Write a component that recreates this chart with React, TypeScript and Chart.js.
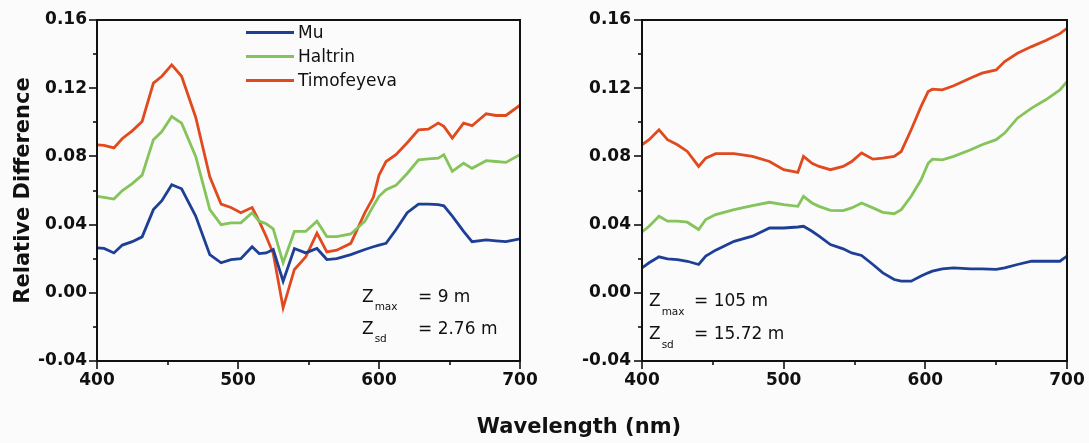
import React, { useEffect, useRef } from "react";
import { Chart, registerables } from "chart.js";

Chart.register(...registerables);

// ---------- data ----------
const seriesNames = ["Mu", "Haltrin", "Timofeyeva"];
const seriesColors = ["#1d3f95", "#85c35b", "#e14a1f"];

const xAxisTitle = "Wavelength (nm)";
const yAxisTitle = "Relative Difference";

const leftWavelengths = [400, 405, 412, 418, 425, 432, 440, 446, 453, 460, 470, 480, 488, 495, 502, 510, 515, 520, 525, 532, 540, 548, 556, 563, 570, 580, 590, 596, 600, 605, 612, 620, 628, 635, 642, 646, 652, 660, 666, 676, 683, 690, 700];
const leftMu = [0.0263, 0.026, 0.0234, 0.028, 0.03, 0.0328, 0.0488, 0.054, 0.0634, 0.061, 0.045, 0.0224, 0.0176, 0.0195, 0.02, 0.027, 0.023, 0.0234, 0.0254, 0.0068, 0.026, 0.0234, 0.026, 0.0195, 0.02, 0.0224, 0.0254, 0.027, 0.028, 0.029, 0.037, 0.047, 0.052, 0.052, 0.0517, 0.051, 0.045, 0.036, 0.03, 0.031, 0.0305, 0.03, 0.0316];
const leftHaltrin = [0.0566, 0.056, 0.055, 0.06, 0.064, 0.069, 0.0898, 0.0946, 0.1034, 0.0995, 0.08, 0.0488, 0.04, 0.041, 0.041, 0.047, 0.042, 0.0405, 0.0375, 0.0176, 0.036, 0.036, 0.042, 0.033, 0.033, 0.0345, 0.042, 0.051, 0.0566, 0.0605, 0.063, 0.07, 0.078, 0.0785, 0.079, 0.081, 0.0712, 0.076, 0.073, 0.0775, 0.077, 0.0765, 0.081];
const leftTimofeyeva = [0.0868, 0.0865, 0.085, 0.0905, 0.095, 0.1005, 0.123, 0.127, 0.1337, 0.127, 0.103, 0.068, 0.052, 0.05, 0.047, 0.05, 0.042, 0.033, 0.023, -0.0088, 0.0137, 0.021, 0.035, 0.024, 0.025, 0.029, 0.047, 0.056, 0.069, 0.077, 0.081, 0.088, 0.0956, 0.096, 0.0995, 0.0976, 0.0907, 0.0995, 0.098, 0.105, 0.104, 0.104, 0.11];

const rightWavelengths = [400, 405, 412, 418, 425, 432, 440, 445, 452, 465, 478, 490, 500, 510, 514, 520, 525, 533, 542, 548, 555, 563, 570, 578, 583, 590, 597, 602, 605, 612, 620, 632, 640, 650, 656, 665, 675, 685, 695, 700];
const rightMu = [0.0146, 0.0176, 0.0211, 0.0199, 0.0195, 0.0185, 0.0166, 0.0215, 0.025, 0.0302, 0.0332, 0.038, 0.038, 0.0386, 0.039, 0.0361, 0.0332, 0.0283, 0.0258, 0.0234, 0.0219, 0.0166, 0.0117, 0.0078, 0.0068, 0.0068, 0.0098, 0.0117, 0.0127, 0.014, 0.0146, 0.014, 0.014, 0.0137, 0.0146, 0.0166, 0.0185, 0.0185, 0.0185, 0.0215];
const rightHaltrin = [0.0357, 0.039, 0.0449, 0.042, 0.042, 0.0414, 0.0371, 0.043, 0.0459, 0.0488, 0.0511, 0.0531, 0.0517, 0.0507, 0.0566, 0.0527, 0.0507, 0.0484, 0.0482, 0.0498, 0.0527, 0.0498, 0.0472, 0.0464, 0.0488, 0.0566, 0.0663, 0.076, 0.0784, 0.078, 0.08, 0.0839, 0.0868, 0.0898, 0.0937, 0.1024, 0.1083, 0.1132, 0.119, 0.1239];
const rightTimofeyeva = [0.0868, 0.0898, 0.0956, 0.0898, 0.0868, 0.0829, 0.0741, 0.079, 0.0816, 0.0816, 0.08, 0.077, 0.0722, 0.0706, 0.08, 0.076, 0.0741, 0.0722, 0.0741, 0.077, 0.082, 0.0784, 0.079, 0.08, 0.0829, 0.0956, 0.1093, 0.118, 0.1194, 0.119, 0.1214, 0.126, 0.1288, 0.1307, 0.1356, 0.1405, 0.1444, 0.148, 0.152, 0.1551];

const leftNotes = [
  ["max", "= 9 m"],
  ["sd", "= 2.76 m"],
];
const rightNotes = [
  ["max", "= 105 m"],
  ["sd", "= 15.72 m"],
];

const xMin = 400;
const xMax = 700;
const xStep = 50;
const yMin = -0.04;
const yMax = 0.16;
const yStep = 0.02;

// ---------- styles ----------
const FONT = "'DejaVu Sans', 'Liberation Sans', sans-serif";
const INK = "#111111";
const BG = "#fbfbfb";

function toPoints(xs: number[], ys: number[]) {
  return xs.map((x, i) => ({ x, y: ys[i] }));
}

const axesPlugin = {
  id: "axesFrame",
  afterDraw(chart: any) {
    const { ctx, chartArea: a, scales } = chart;
    ctx.save();
    ctx.strokeStyle = INK;
    ctx.lineWidth = 1.6;
    scales.x.ticks.forEach((t: any) => {
      const px = Math.round(scales.x.getPixelForValue(t.value));
      const len = t.label !== "" ? 8 : 4;
      ctx.beginPath();
      ctx.moveTo(px, a.bottom);
      ctx.lineTo(px, a.bottom + len);
      ctx.stroke();
    });
    scales.y.ticks.forEach((t: any) => {
      const py = Math.round(scales.y.getPixelForValue(t.value));
      const len = t.label !== "" ? 8 : 4;
      ctx.beginPath();
      ctx.moveTo(a.left, py);
      ctx.lineTo(a.left - len, py);
      ctx.stroke();
    });
    ctx.lineWidth = 2;
    ctx.strokeRect(a.left, a.top, a.right - a.left, a.bottom - a.top);
    ctx.restore();
  },
};

const legendPlugin = {
  id: "lineLegend",
  afterDraw(chart: any) {
    const { ctx, chartArea: a } = chart;
    ctx.save();
    chart.data.datasets.forEach((ds: any, i: number) => {
      const y = a.top + 12.5 + i * 24;
      ctx.strokeStyle = ds.borderColor;
      ctx.lineWidth = 3;
      ctx.beginPath();
      ctx.moveTo(a.left + 149, y);
      ctx.lineTo(a.left + 197, y);
      ctx.stroke();
      ctx.fillStyle = INK;
      ctx.font = `17px ${FONT}`;
      ctx.textBaseline = "middle";
      ctx.fillText(ds.label, a.left + 201, y + 1);
    });
    ctx.restore();
  },
};

function notesPlugin(notes: string[][], zDx: number, eqDx: number, baselines: number[], subDrop: number) {
  return {
    id: "zNotes",
    afterDraw(chart: any) {
      const { ctx, chartArea: a } = chart;
      ctx.save();
      ctx.fillStyle = INK;
      ctx.textBaseline = "alphabetic";
      notes.forEach((n, i) => {
        const y = a.top + baselines[i];
        ctx.font = `17px ${FONT}`;
        ctx.fillText("Z", a.left + zDx, y);
        const zw = ctx.measureText("Z").width;
        ctx.font = `10.5px ${FONT}`;
        ctx.fillText(n[0], a.left + zDx + zw + 1, y + subDrop);
        ctx.font = `17px ${FONT}`;
        ctx.fillText(n[1], a.left + eqDx, y);
      });
      ctx.restore();
    },
  };
}

function buildConfig(o: {
  xs: number[];
  mu: number[];
  ha: number[];
  ti: number[];
  yWidth: number;
  padRight: number;
  yPad: number;
  showTitle: boolean;
  plugins: any[];
}) {
  const tickFont = { family: FONT, size: 17, weight: "bold" as const };
  return {
    type: "line" as const,
    data: {
      datasets: [o.mu, o.ha, o.ti].map((ys, i) => ({
        label: seriesNames[i],
        data: toPoints(o.xs, ys),
        borderColor: seriesColors[i],
        backgroundColor: seriesColors[i],
        borderWidth: 2.8,
        pointRadius: 0,
        tension: 0,
        fill: false,
      })),
    },
    options: {
      responsive: false,
      animation: false as const,
      devicePixelRatio: 1,
      layout: { padding: { top: 20, right: o.padRight, left: 0, bottom: 0 } },
      plugins: { legend: { display: false }, tooltip: { enabled: false } },
      scales: {
        x: {
          type: "linear" as const,
          min: xMin,
          max: xMax,
          border: { display: false },
          grid: { display: false, drawTicks: false, tickLength: 0 },
          ticks: {
            stepSize: xStep,
            autoSkip: false,
            maxRotation: 0,
            padding: 9,
            color: INK,
            font: tickFont,
            callback: (v: any) => (Number(v) % 100 === 0 ? String(v) : ""),
          },
          afterFit: (s: any) => {
            s.height = 82;
            s.paddingLeft = 0;
            s.paddingRight = 0;
          },
        },
        y: {
          type: "linear" as const,
          min: yMin,
          max: yMax,
          border: { display: false },
          grid: { display: false, drawTicks: false, tickLength: 0 },
          ticks: {
            stepSize: yStep,
            autoSkip: false,
            padding: o.yPad,
            color: INK,
            font: tickFont,
            callback: (v: any) => (Math.round(Number(v) * 100) % 4 === 0 ? Number(v).toFixed(2) : ""),
          },
          title: {
            display: o.showTitle,
            text: yAxisTitle,
            color: INK,
            font: { family: FONT, size: 21, weight: "bold" as const },
            padding: { top: 11, bottom: 0 },
          },
          afterFit: (s: any) => {
            s.width = o.yWidth;
            s.paddingTop = 0;
            s.paddingBottom = 0;
          },
        },
      },
    },
    plugins: o.plugins,
  };
}

export default function App() {
  const leftRef = useRef<HTMLCanvasElement>(null);
  const rightRef = useRef<HTMLCanvasElement>(null);

  useEffect(() => {
    document.body.style.margin = "0";
    document.body.style.background = BG;
    const left = new Chart(
      leftRef.current as HTMLCanvasElement,
      buildConfig({
        xs: leftWavelengths,
        mu: leftMu,
        ha: leftHaltrin,
        ti: leftTimofeyeva,
        yWidth: 97,
        padRight: 20,
        yPad: 10,
        showTitle: true,
        plugins: [axesPlugin, legendPlugin, notesPlugin(leftNotes, 265, 321, [281.5, 313.5], 8)],
      }) as any
    );
    const right = new Chart(
      rightRef.current as HTMLCanvasElement,
      buildConfig({
        xs: rightWavelengths,
        mu: rightMu,
        ha: rightHaltrin,
        ti: rightTimofeyeva,
        yWidth: 102,
        padRight: 22,
        yPad: 11,
        showTitle: false,
        plugins: [axesPlugin, notesPlugin(rightNotes, 7, 52, [285.5, 318.5], 9)],
      }) as any
    );
    return () => {
      left.destroy();
      right.destroy();
    };
  }, []);

  return (
    <div style={{ position: "relative", width: 1089, height: 443, background: BG, overflow: "hidden" }}>
      <canvas ref={leftRef} width={540} height={443} style={{ position: "absolute", left: 0, top: 0 }} />
      <canvas ref={rightRef} width={549} height={443} style={{ position: "absolute", left: 540, top: 0 }} />
      <div
        style={{
          position: "absolute",
          left: 0,
          top: 416,
          width: 1158,
          textAlign: "center",
          font: `bold 21px ${FONT}`,
          lineHeight: "21px",
          color: INK,
          whiteSpace: "nowrap",
        }}
      >
        {xAxisTitle}
      </div>
    </div>
  );
}
